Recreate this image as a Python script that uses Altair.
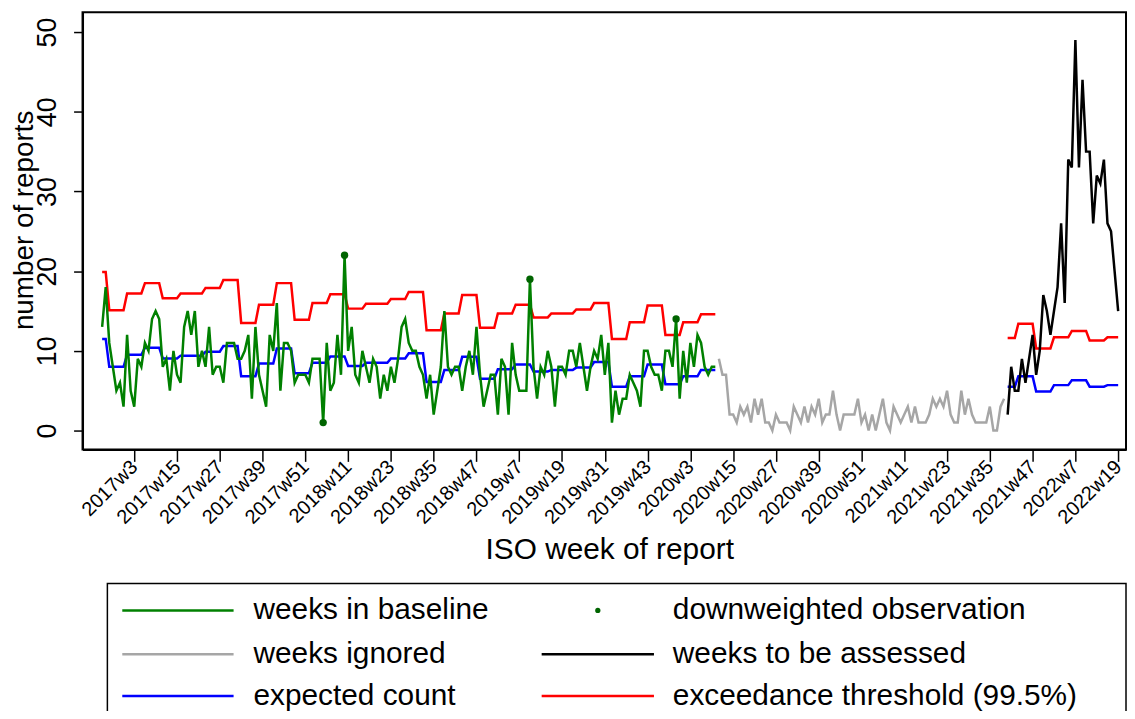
import altair as alt
import pandas as pd
import numpy as np

# running week index: 52 weeks per year, 2017w1 = 1
baseline_start = -6    # 2016w46
ignored_start = 167    # 2020w11
assessed_start = 248   # 2021w40

baseline_counts = [
    13, 18, 11, 8, 5, 6, 3, 12, 5, 3,
    9, 8, 11, 10, 14, 15, 14, 8, 9, 5,
    10, 7, 6, 13, 15, 12, 15, 8, 10, 8,
    13, 7, 8, 8, 6, 11, 11, 11, 9, 9,
    10, 12, 4, 13, 7, 5, 3, 12, 10, 16,
    5, 11, 11, 10, 6, 7, 7, 7, 6, 9,
    9, 9, 1, 11, 5, 6, 12, 7, 22, 10,
    13, 7, 6, 10, 8, 6, 9, 8, 4, 7,
    5, 8, 6, 9, 13, 14, 11, 10, 10, 8,
    7, 4, 7, 2, 5, 8, 15, 8, 7, 8,
    8, 5, 8, 10, 7, 13, 7, 3, 5, 7,
    7, 2, 9, 8, 2, 11, 7, 5, 5, 5,
    19, 8, 4, 8, 7, 10, 8, 3, 8, 8,
    7, 10, 10, 8, 11, 8, 5, 8, 10, 9,
    12, 7, 11, 1, 5, 2, 4, 4, 7, 6,
    5, 3, 10, 10, 8, 7, 7, 5, 10, 10,
    8, 14, 4, 10, 6, 11, 8, 12, 11, 8,
    7, 8, 8,
]
ignored_counts = [
    9, 7, 7, 2, 2, 1, 3, 2, 3, 1,
    4, 2, 4, 1, 1, 0, 2, 1, 1, 1,
    0, 3, 2, 1, 3, 1, 3, 2, 4, 1,
    2, 2, 5, 2, 0, 2, 2, 2, 2, 4,
    1, 2, 0, 2, 0, 2, 4, 1, 0, 3,
    2, 1, 2, 3, 1, 3, 1, 1, 1, 2,
    4, 3, 4, 3, 5, 2, 1, 1, 5, 2,
    4, 2, 1, 1, 1, 1, 3, 0, 0, 3,
    4,
]
assessed_counts = [
    2, 8, 5, 5, 9, 6, 9, 12, 7, 10,
    17, 15, 12, 15, 18, 26, 16, 34, 33, 49,
    33, 44, 35, 35, 26, 32, 31, 34, 26, 25,
    20, 15,
]
downweighted_weeks = [56, 62, 114, 155]

# step levels of the expected count / threshold and how many weeks each lasts
baseline_step_weeks = [2, 5, 5, 5, 5, 7, 5, 5, 5, 5, 5, 5, 5, 5, 5, 7, 5,
                       5, 5, 5, 5, 5, 5, 5, 5, 7, 5, 5, 5, 5, 5, 5, 5, 5]
baseline_threshold = [19.9, 15.1, 17.2, 18.5, 16.6, 17.2, 17.9, 18.9, 13.5,
                      15.8, 18.5, 13.9, 16.0, 17.1, 15.3, 15.9, 16.5, 17.4,
                      12.6, 14.7, 17.0, 12.9, 14.7, 15.8, 14.2, 14.7, 15.2,
                      16.0, 11.5, 13.6, 15.7, 12.0, 13.6, 14.6]
baseline_expected = [11.5, 8.0, 9.5, 10.4, 9.05, 9.4, 9.9, 10.6, 6.8, 8.4,
                     10.3, 7.2, 8.5, 9.3, 8.1, 8.5, 9.05, 9.7, 6.1, 7.6,
                     9.25, 6.5, 7.7, 8.3, 7.4, 7.6, 7.9, 8.6, 5.5, 6.8, 8.3,
                     5.8, 6.8, 7.6]
assessed_step_weeks = [3, 5, 5, 5, 5, 5, 4]
assessed_threshold = [11.6, 13.4, 10.3, 11.7, 12.5, 11.3, 11.7]
assessed_expected = [5.5, 6.8, 4.9, 5.7, 6.3, 5.5, 5.7]

tick_weeks = list(range(3, 280, 12))
tick_labels = ["2017w3", "2017w15", "2017w27", "2017w39", "2017w51",
               "2018w11", "2018w23", "2018w35", "2018w47", "2019w7",
               "2019w19", "2019w31", "2019w43", "2020w3", "2020w15",
               "2020w27", "2020w39", "2020w51", "2021w11", "2021w23",
               "2021w35", "2021w47", "2022w7", "2022w19"]
y_ticks = [0, 10, 20, 30, 40, 50]

series_names = ["weeks in baseline", "downweighted observation", "weeks ignored",
                "weeks to be assessed", "expected count",
                "exceedance threshold (99.5%)"]
series_colors = ["#008000", "#006400", "#A6A6A6", "#000000", "#0000FF", "#FF0000"]

FONT = "Liberation Sans"


def seg(start, values, name, part):
    return pd.DataFrame({"week": np.arange(start, start + len(values)),
                         "value": values, "series": name, "part": part})


counts = pd.concat([
    seg(baseline_start, baseline_counts, "weeks in baseline", "b"),
    seg(ignored_start, ignored_counts, "weeks ignored", "i"),
    seg(assessed_start, assessed_counts, "weeks to be assessed", "a"),
])
refs = pd.concat([
    seg(baseline_start, np.repeat(baseline_expected, baseline_step_weeks), "expected count", "e1"),
    seg(assessed_start, np.repeat(assessed_expected, assessed_step_weeks), "expected count", "e2"),
    seg(baseline_start, np.repeat(baseline_threshold, baseline_step_weeks), "exceedance threshold (99.5%)", "t1"),
    seg(assessed_start, np.repeat(assessed_threshold, assessed_step_weeks), "exceedance threshold (99.5%)", "t2"),
])
bdf = seg(baseline_start, baseline_counts, "downweighted observation", "d")
dots = bdf[bdf["week"].isin(downweighted_weeks)]

label_expr = ("[" + ",".join("'%s'" % t for t in tick_labels) + "][indexof(["
              + ",".join(str(t) for t in tick_weeks) + "], datum.value)]")

xenc = alt.X("week:Q",
             scale=alt.Scale(domain=[-11.5, 281.2], nice=False, zero=False),
             axis=alt.Axis(values=tick_weeks, labelExpr=label_expr, labelAngle=315,
                           labelAlign="right", labelBaseline="middle", labelFontSize=20,
                           labelPadding=2, labelOverlap=False, labelFlush=False,
                           tickSize=12, tickWidth=1.5, grid=False,
                           title="ISO week of report", titleFontSize=30,
                           titleFontWeight="normal", titleX=530, titleY=101,
                           titleBaseline="middle"))
yenc = alt.Y("value:Q",
             scale=alt.Scale(domain=[-2.37, 52.5], nice=False, zero=False),
             axis=alt.Axis(values=y_ticks, labelAngle=270, labelAlign="center",
                           labelBaseline="bottom", labelFontSize=27, labelPadding=12,
                           labelOverlap=False, tickSize=9, tickWidth=1.5, grid=False,
                           title="number of reports", titleFontSize=28,
                           titleFontWeight="normal", titleAngle=270, titleX=-58,
                           titleY=209, titleBaseline="middle", titleAlign="center"))
color = alt.Color("series:N", scale=alt.Scale(domain=series_names, range=series_colors),
                  legend=None)

ref_lines = alt.Chart(refs).mark_line(strokeWidth=2.5).encode(
    x=xenc, y=yenc, color=color, detail="part:N", order="week:Q")
count_lines = alt.Chart(counts).mark_line(strokeWidth=2.5).encode(
    x=xenc, y=yenc, color=color, detail="part:N", order="week:Q")
dot_layer = alt.Chart(dots).mark_circle(size=55, opacity=1).encode(
    x=xenc, y=yenc, color=color)

# legend box below the plot (pixel layout relative to the plot area)
one = pd.DataFrame({"a": [0]})
legend_layers = [alt.Chart(one).mark_rect(fill="transparent", stroke="black", strokeWidth=1.5).encode(
    x=alt.value(25), x2=alt.value(1050), y=alt.value(575), y2=alt.value(740))]
row_y = [602, 646, 688]
sym_x = [(40, 152), (462, 575)]
text_x = [172, 594]
for i, (name, col) in enumerate(zip(series_names, series_colors)):
    c, r = i % 2, i // 2
    if name == "downweighted observation":
        legend_layers.append(alt.Chart(one).mark_circle(size=28, color=col, opacity=1).encode(
            x=alt.value((sym_x[c][0] + sym_x[c][1]) / 2), y=alt.value(row_y[r])))
    else:
        legend_layers.append(alt.Chart(one).mark_rule(color=col, strokeWidth=2.5).encode(
            x=alt.value(sym_x[c][0]), x2=alt.value(sym_x[c][1]), y=alt.value(row_y[r])))
    legend_layers.append(alt.Chart(one).mark_text(
        align="left", baseline="middle", fontSize=30, font=FONT, color="black").encode(
        x=alt.value(text_x[c]), y=alt.value(row_y[r]), text=alt.value(name)))

chart = alt.layer(ref_lines, count_lines, dot_layer, *legend_layers).properties(
    width=1050, height=440,
    autosize=alt.AutoSizeParams(type="none"),
    padding={"left": 75, "top": 2, "right": 1, "bottom": 261},
    background="white",
).configure_view(stroke="black", strokeWidth=2).configure_axis(
    domainColor="black", domainWidth=2, tickColor="black", labelColor="black",
    titleColor="black", labelFont=FONT, titleFont=FONT)

chart.save("out.html", embed_options={"renderer": "svg", "actions": False})
